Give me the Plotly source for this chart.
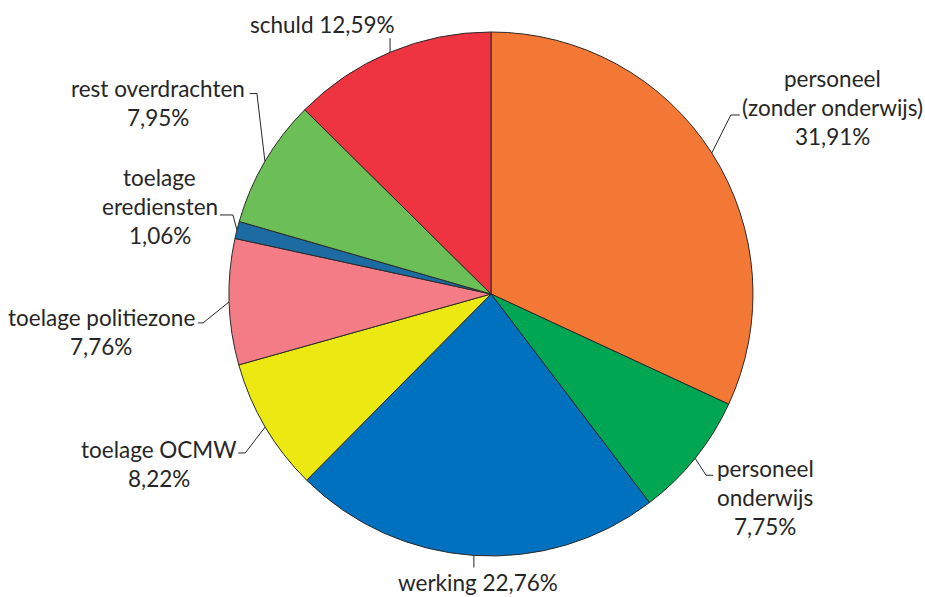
import math
import plotly.graph_objects as go

# ---- data ----
categories = ["personeel (zonder onderwijs)", "personeel onderwijs", "werking",
              "toelage OCMW", "toelage politiezone", "toelage erediensten",
              "rest overdrachten", "schuld"]
values = [31.91, 7.75, 22.76, 8.22, 7.76, 1.06, 7.95, 12.59]
value_labels = ["31,91%", "7,75%", "22,76%", "8,22%", "7,76%", "1,06%", "7,95%", "12,59%"]
label_lines = [
    ["personeel", "(zonder onderwijs)", "31,91%"],
    ["personeel", "onderwijs", "7,75%"],
    ["werking 22,76%"],
    ["toelage OCMW", "8,22%"],
    ["toelage politiezone", "7,76%"],
    ["toelage", "erediensten", "1,06%"],
    ["rest overdrachten", "7,95%"],
    ["schuld 12,59%"],
]
colors = ["#F37735", "#00A651", "#0071BF", "#ECE812", "#F47C86",
          "#1C6BA3", "#6CBF57", "#EE3441"]

# ---- layout geometry (pixels) ----
W, H = 925, 597
CX, CY, R = 491, 294, 262
LINE_H = 29
# per label: elbow offset, stub end offset, text centre offset, first-line y offset (relative to edge point)
leader = [
    ((19, -38), (28, -38), 121, -74),
    ((11, 17), (18, 17), 70, 10),
    ((0, 12), None, 4, 27),
    ((-20, 26), (-27, 26), -106, 23),
    ((-26, 21), (-31, 21), -128, 16),
    ((-4, -15), (-17, -15), -77, -52),
    ((-8, -68), (-15, -68), -107, -73),
    ((0, -14), None, -68, -28),
]

total = sum(values)
fig = go.Figure()
fig.add_trace(go.Pie(
    labels=categories, values=values, sort=False, direction="clockwise", rotation=0,
    marker=dict(colors=colors, line=dict(color="#2b2b2b", width=1)),
    textinfo="none", hoverinfo="label+percent", showlegend=False,
    domain=dict(x=[(CX - R) / W, (CX + R) / W], y=[(H - CY - R) / H, (H - CY + R) / H]),
))

lx, ly = [], []
annotations = []
cum = 0.0
for v, lines, (elb, stub, tx, ty) in zip(values, label_lines, leader):
    mid = (cum + v / 2) / total * 2 * math.pi
    cum += v
    ex = CX + R * math.sin(mid)
    ey = CY - R * math.cos(mid)
    pts = [(ex, ey), (ex + elb[0], ey + elb[1])]
    if stub:
        pts.append((ex + stub[0], ey + stub[1]))
    for p in pts:
        lx.append(p[0]); ly.append(p[1])
    lx.append(None); ly.append(None)
    for j, t in enumerate(lines):
        annotations.append(dict(
            x=ex + tx, y=ey + ty + j * LINE_H, xref="x", yref="y", text=t,
            showarrow=False, xanchor="center", yanchor="middle",
            font=dict(family="Lato", size=22.5, color="#262626")))

fig.add_trace(go.Scatter(x=lx, y=ly, mode="lines", line=dict(color="#262626", width=1),
                         hoverinfo="skip", showlegend=False))

fig.update_layout(
    width=W, height=H, margin=dict(l=0, r=0, t=0, b=0),
    paper_bgcolor="white", plot_bgcolor="rgba(0,0,0,0)",
    xaxis=dict(range=[0, W], visible=False, fixedrange=True),
    yaxis=dict(range=[H, 0], visible=False, fixedrange=True),
    annotations=annotations,
)
fig.write_html("out.html", config={"displayModeBar": False},
               post_script="document.body.style.margin='0';document.body.style.overflow='hidden';")
